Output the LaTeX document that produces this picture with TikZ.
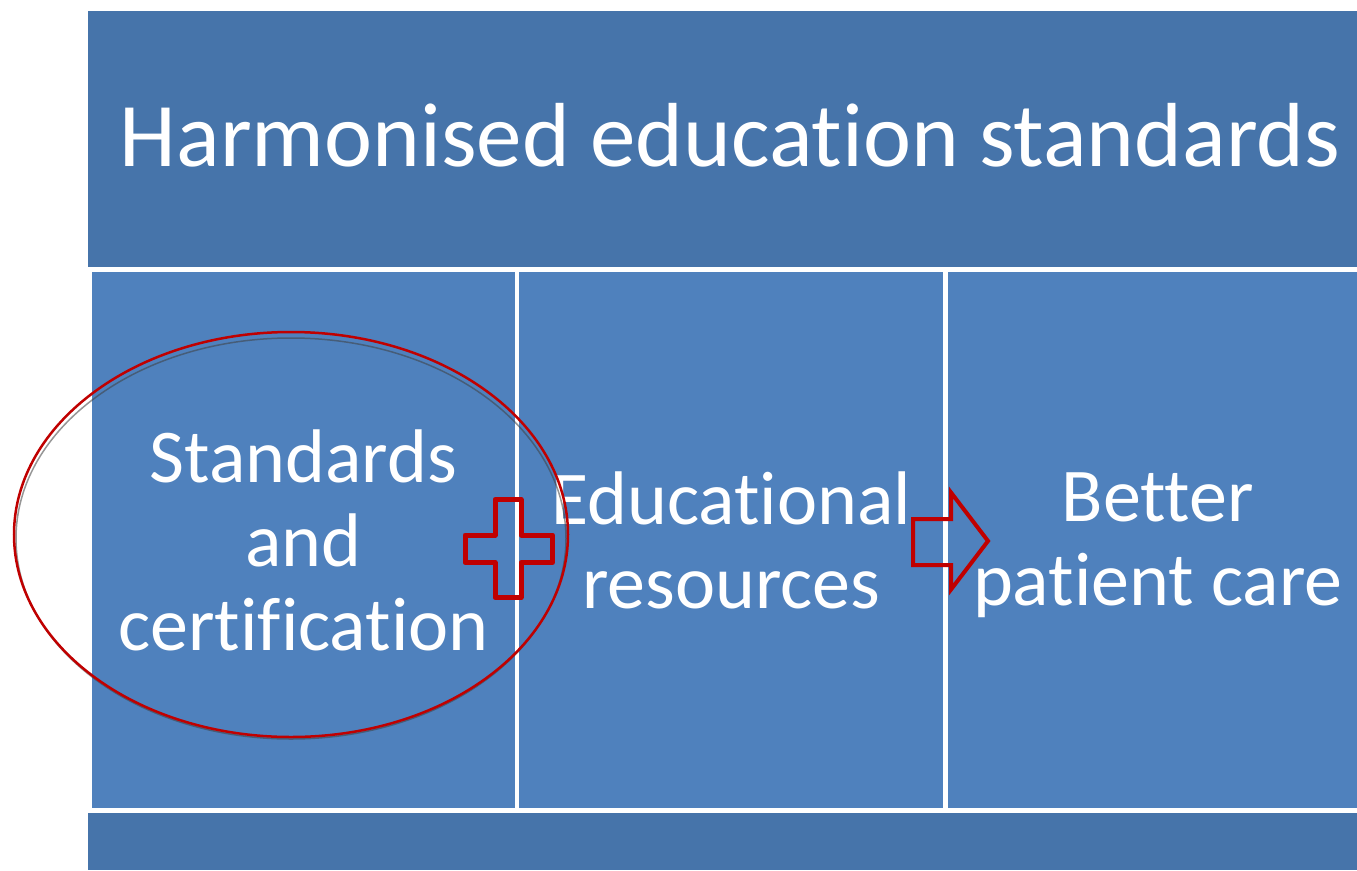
\documentclass[tikz,border=0pt]{standalone}
\usepackage{fontspec}
\setmainfont{Carlito}[RawFeature=-liga]
\usetikzlibrary{positioning}
\definecolor{bandblue}{HTML}{4674AA}
\definecolor{cellblue}{HTML}{4F81BD}
\definecolor{markred}{HTML}{C00000}
\tikzset{
  cell/.style={fill=cellblue,draw=white,line width=4.5pt,inner sep=0pt,outer sep=0pt,
    minimum height=541pt,text=white,align=center,font=\fontsize{76}{84}\selectfont},
  redmark/.style={draw=markred,line width=5pt,line join=round},
}

\begin{document}
\begin{tikzpicture}[x=1pt,y=-1pt]
    \useasboundingbox (0,0) rectangle (1357,870);
    \clip (0,0) rectangle (1357,870);
    % dark frame behind everything
    \fill[bandblue](88,11) rectangle (1372,870);
    \node[text=white,font=\fontsize{91}{110}\selectfont,anchor=base] (title) at (730,166) {Harmonised education standards};
    % the three cells
    \node[cell,minimum width=427pt] (std) at (303.5,540) {Standards\\and\\certification};
    \node[cell,minimum width=428.5pt,right=0pt of std] (edu) {Educational\\resources};
    \node[cell,minimum width=424.5pt,right=0pt of edu] (care) {\rule{0pt}{60pt}Better\\patient care};
    % ring round the first cell, with its shadow
    \draw[black!75,opacity=.55,line width=1.5pt](291,538.5) ellipse [x radius=275,y radius=200.5];
    \draw[markred,line width=2.5pt](291,534.5) ellipse [x radius=277,y radius=202.5];
    % plus sign
    \draw[redmark](495,499.5)--(521,499.5)--(521,535)--(552.5,535)--(552.5,562.5)--(521,562.5)
      --(521,597.5)--(495,597.5)--(495,562.5)--(465,562.5)--(465,535)--(495,535)--cycle;
    % arrow
    \draw[redmark,line width=4pt,line join=miter](913,519)--(951,519)--(951,492.5)--(988,541)
      --(951,589.5)--(951,565)--(913,565)--cycle;
  \end{tikzpicture}
\end{document}
